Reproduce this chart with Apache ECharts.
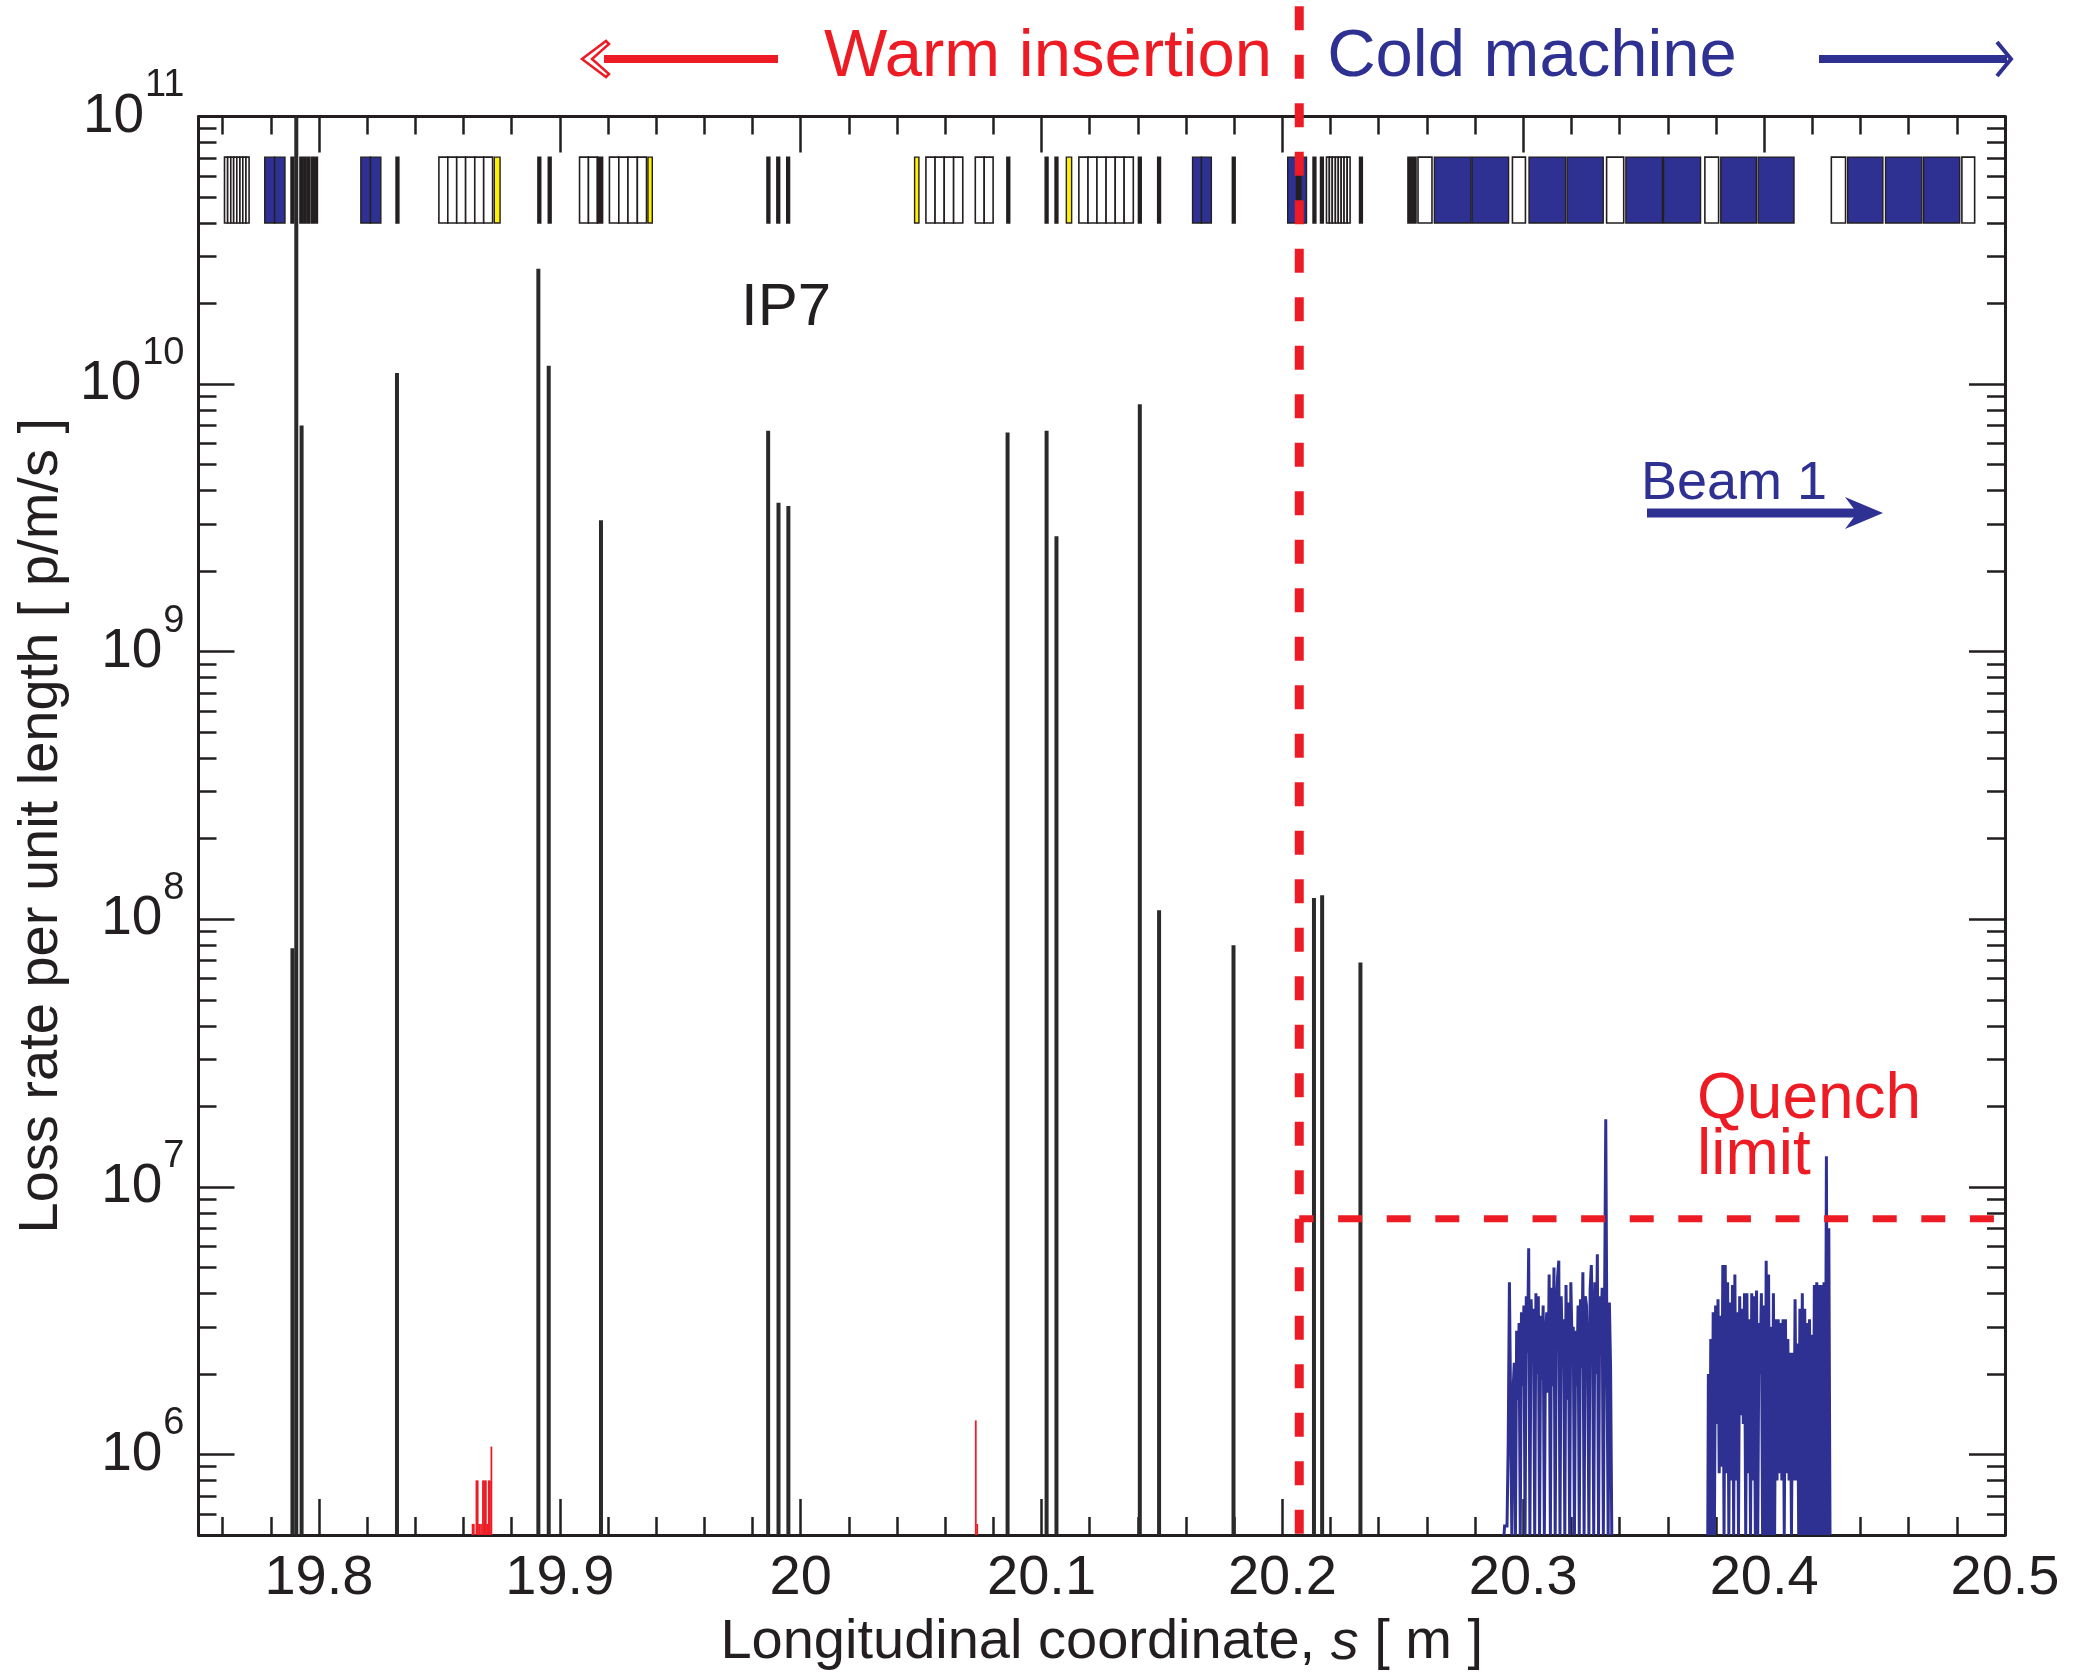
<!DOCTYPE html>
<html><head><meta charset="utf-8">
<script src="https://cdn.jsdelivr.net/npm/echarts@6/dist/echarts.min.js"></script>
<style>html,body{margin:0;padding:0;background:#fff}#c{width:2075px;height:1676px}</style>
</head><body><div id="c"></div>
<script>
// ---------------- data ----------------
const xTickLabels = [19.8, 19.9, 20.0, 20.1, 20.2, 20.3, 20.4, 20.5];
const yTickLabels = [1e6, 1e7, 1e8, 1e9, 1e10, 1e11];

// collimator (black) loss spikes
const collimatorS = [19.7890, 19.7906, 19.7928, 19.8324, 19.8911, 19.8954, 19.9171, 19.9865, 19.9908, 19.9949,
  20.0859, 20.1021, 20.1062, 20.1408, 20.1488, 20.1797, 20.2131, 20.2165, 20.2324];
const collimatorLoss = [7.8e7, 1.0e11, 7.0e9, 1.1e10, 2.7e10, 1.17e10, 3.1e9, 6.7e9, 3.6e9, 3.5e9,
  6.6e9, 6.7e9, 2.7e9, 8.4e9, 1.08e8, 8.0e7, 1.2e8, 1.23e8, 6.9e7];

// warm (red) losses
const warmS = [19.8638, 19.8643, 19.8654, 19.8659, 19.8665, 19.8673, 19.8681, 19.8686, 19.8693, 19.8699, 19.8705, 19.8710, 19.8716, 20.0727, 20.0733];
const warmLoss = [5.5e5, 5.5e5, 8.0e5, 8.0e5, 5.5e5, 5.5e5, 8.0e5, 8.0e5, 8.0e5, 5.5e5, 8.0e5, 8.0e5, 1.07e6, 1.34e6, 5.5e5];

// cold (blue) losses, binned
const coldBin = 0.0005;
const cold1Start = 20.2920;
const cold1Loss = [5e5, 5.4e5, 5.4e5, 5.4e5, 1.1e6, 4.4e6, 1.5e6, 5e5, 1.7e6, 2.2e6,
  5e5, 2.9e6, 1.6e6, 3.1e6, 5e5, 3.4e6, 1.8e6, 3.6e6, 5e5, 3.9e6,
  2.4e6, 5.9e6, 5e5, 3.8e6, 2.6e6, 3.5e6, 5e5, 4.0e6, 2.0e6, 3.9e6,
  5e5, 3.3e6, 1.9e6, 3.6e6, 5e5, 2.8e6, 3.4e6, 1.7e6, 4.7e6, 5e5,
  4.2e6, 1.8e6, 5.0e6, 5e5, 3.5e6, 4.6e6, 5.3e6, 5e5, 3.9e6, 2.3e6,
  3.2e6, 5e5, 4.3e6, 1.6e6, 3.7e6, 5e5, 4.4e6, 2.6e6, 3.0e6, 5e5,
  2.9e6, 1.8e6, 3.6e6, 5e5, 3.8e6, 2.1e6, 4.8e6, 5e5, 3.9e6, 3.6e6,
  2.4e6, 5e5, 4.1e6, 5.1e6, 3.1e6, 5e5, 4.4e6, 2.0e6, 5.6e6, 5e5,
  3.9e6, 2.8e6, 4.2e6, 5e5, 3.6e6, 1.79e7, 2.3e6, 5e5, 3.7e6, 2.1e6, 5e5];
const cold2Start = 20.3766;
const cold2Loss = [5e5, 2.0e6, 5e5, 2.7e6, 5e5, 3.4e6, 5e5, 3.6e6, 1.3e6, 3.8e6,
  8.5e5, 3.3e6, 9e5, 5.1e6, 5e5, 5.1e6, 8.5e5, 4.4e6, 5e5, 3.7e6,
  8e5, 4.3e6, 5e5, 4.7e6, 8e5, 3.4e6, 5e5, 3.9e6, 1.4e6, 3.5e6,
  1.3e6, 4.0e6, 5e5, 4.0e6, 8.5e5, 3.2e6, 5e5, 4.0e6, 8e5, 3.9e6,
  5e5, 4.1e6, 5e5, 3.1e6, 2.0e6, 4.0e6, 5e5, 3.6e6, 5e5, 5.3e6,
  5e5, 4.7e6, 5e5, 3.0e6, 5e5, 4.0e6, 5e5, 3.2e6, 8e5, 3.2e6,
  8.5e5, 3.1e6, 8e5, 3.2e6, 5e5, 3.2e6, 8.5e5, 2.7e6, 8e5, 2.4e6,
  5e5, 2.4e6, 8e5, 3.8e6, 8e5, 2.6e6, 5e5, 3.5e6, 5e5, 4.0e6,
  5e5, 3.5e6, 5e5, 3.1e6, 5e5, 3.2e6, 5e5, 2.8e6, 5e5, 4.3e6,
  5e5, 4.4e6, 5e5, 4.3e6, 5e5, 4.3e6, 5e5, 4.4e6, 5e5, 1.3e7,
  5e5, 7.0e6, 5e5];

const quenchLimit = 7.6e6;
const warmColdBoundary = 20.2070;

// machine elements (s start, s end, type: w=warm/white, b=magnet/blue, y=yellow, k=collimator/black)
const elemStart = [19.7608, 19.7621, 19.7634, 19.7646, 19.7659, 19.7672, 19.7684, 19.7697,
  19.7775, 19.7816, 19.7884, 19.7921, 19.7937, 19.7952, 19.7968, 19.8174, 19.8214, 19.8320,
  19.8498, 19.8535, 19.8572, 19.8609, 19.8647, 19.8684, 19.8728, 19.8909, 19.8952,
  19.9082, 19.9119, 19.9156, 19.9206, 19.9245, 19.9283, 19.9322, 19.9366,
  19.9860, 19.9901, 19.9942,
  20.0473, 20.0520, 20.0558, 20.0596, 20.0635, 20.0725, 20.0762, 20.0856, 20.1015, 20.1056, 20.1103,
  20.1155, 20.1193, 20.1230, 20.1268, 20.1306, 20.1343, 20.1402, 20.1482, 20.1627, 20.1664, 20.1792,
  20.2022, 20.2059, 20.2077, 20.2127, 20.2158,
  20.2183, 20.2195, 20.2207, 20.2220, 20.2232, 20.2244, 20.2256, 20.2269, 20.2320,
  20.2521, 20.2563, 20.2631, 20.2787, 20.2955, 20.3024, 20.3182, 20.3346, 20.3426, 20.3582,
  20.3754, 20.3820, 20.3975, 20.4279, 20.4347, 20.4504, 20.4662, 20.4821];
const elemEnd = [19.7621, 19.7634, 19.7646, 19.7659, 19.7672, 19.7684, 19.7697, 19.7710,
  19.7816, 19.7859, 19.7896, 19.7932, 19.7947, 19.7962, 19.7994, 19.8214, 19.8257, 19.8332,
  19.8535, 19.8572, 19.8609, 19.8647, 19.8684, 19.8721, 19.8752, 19.8921, 19.8964,
  19.9119, 19.9156, 19.9178, 19.9245, 19.9283, 19.9322, 19.9360, 19.9384,
  19.9872, 19.9913, 19.9954,
  20.0491, 20.0558, 20.0596, 20.0635, 20.0673, 20.0762, 20.0799, 20.0868, 20.1027, 20.1068, 20.1125,
  20.1193, 20.1230, 20.1268, 20.1306, 20.1343, 20.1381, 20.1414, 20.1494, 20.1664, 20.1705, 20.1804,
  20.2059, 20.2077, 20.2100, 20.2139, 20.2170,
  20.2195, 20.2207, 20.2220, 20.2232, 20.2244, 20.2256, 20.2269, 20.2281, 20.2332,
  20.2555, 20.2621, 20.2783, 20.2939, 20.3009, 20.3176, 20.3332, 20.3417, 20.3578, 20.3736,
  20.3811, 20.3968, 20.4124, 20.4338, 20.4493, 20.4655, 20.4812, 20.4874];
const elemType = ['w','w','w','w','w','w','w','w',
  'b','b','k','k','k','k','k','b','b','k',
  'w','w','w','w','w','w','y','k','k',
  'w','w','k','w','w','w','w','y',
  'k','k','k',
  'y','w','w','w','w','w','w','k','k','k','y',
  'w','w','w','w','w','w','k','k','b','b','k',
  'b','k','b','k','k',
  'w','w','w','w','w','w','w','w','k',
  'k','w','b','b','w','b','b','w','b','b',
  'w','b','b','w','b','b','b','w'];

// ---------------- chart ----------------
const FONT = '"Liberation Sans", Arial, Helvetica, sans-serif';
const INK = '#231f20';
const BLUE = '#2e3192';
const RED = '#ed1c24';
const Y_MIN = 5e5, Y_MAX = 1e11;
const ELEM_BOT = 4.0e10, ELEM_TOP = 7.05e10;

const xMinor = [];
for (let k = 988; k <= 1024; k++) if (k % 5 !== 0) xMinor.push(+(k * 0.02).toFixed(2));
const yMinor = [];
for (let e = 5; e <= 10; e++) for (let m = 2; m <= 9; m++) { const v = m * Math.pow(10, e); if (v > Y_MIN && v < Y_MAX) yMinor.push(v); }

function xAx(pos, ticks, len, showLine, extra) {
  return Object.assign({
    type: 'value', min: 19.75, max: 20.5, position: pos,
    axisLine: { show: showLine, onZero: false, lineStyle: { color: INK, width: 3 } },
    axisTick: { show: true, inside: true, length: len, customValues: ticks, lineStyle: { color: INK, width: 2.5 } },
    axisLabel: { show: false },
    splitLine: { show: false }
  }, extra || {});
}
function yAx(pos, ticks, len, showLine, extra) {
  return Object.assign({
    type: 'log', logBase: 10, min: Y_MIN, max: Y_MAX, position: pos,
    axisLine: { show: showLine, onZero: false, lineStyle: { color: INK, width: 3 } },
    axisTick: { show: true, inside: true, length: len, customValues: ticks, lineStyle: { color: INK, width: 2.5 } },
    axisLabel: { show: false },
    splitLine: { show: false }, minorTick: { show: false }
  }, extra || {});
}

const fills = { w: '#ffffff', b: BLUE, y: '#fff200', k: INK };

const option = {
  animation: false,
  backgroundColor: '#ffffff',
  grid: { left: 198.5, right: 70, top: 116.5, bottom: 137, containLabel: false },
  xAxis: [
    xAx('bottom', xTickLabels, 36, true, {
      axisLabel: { show: true, customValues: xTickLabels, margin: 16, color: INK, fontSize: 56, fontFamily: FONT,
        formatter: v => String(Math.round(v * 10) / 10) },
      name: 'Longitudinal coordinate, {i|s} [ m ]', nameLocation: 'middle', nameGap: 80,
      nameTextStyle: { color: INK, fontSize: 56, fontFamily: FONT,
        rich: { i: { fontStyle: 'italic', fontSize: 56, fontFamily: FONT, color: INK } } }
    }),
    xAx('bottom', xMinor, 18, false),
    xAx('top', xTickLabels, 36, true),
    xAx('top', xMinor, 18, false)
  ],
  yAxis: [
    yAx('left', yTickLabels, 36, true, {
      axisLabel: { show: true, customValues: yTickLabels, margin: 14,
        formatter: v => '{b|10}{s|' + Math.round(Math.log10(v)) + '}',
        rich: {
          b: { fontSize: 55, fontFamily: FONT, color: INK, padding: [22, 0, 22, 0] },
          s: { fontSize: 38, fontFamily: FONT, color: INK, verticalAlign: 'top', padding: [0, 0, 0, 1] }
        } },
      name: 'Loss rate per unit length [ p/m/s ]', nameLocation: 'middle', nameGap: 125, nameRotate: 90,
      nameTextStyle: { color: INK, fontSize: 56, fontFamily: FONT }
    }),
    yAx('left', yMinor, 18, false),
    yAx('right', yTickLabels, 36, true),
    yAx('right', yMinor, 18, false)
  ],
  series: [
    {
      type: 'custom', name: 'elements', xAxisIndex: 0, yAxisIndex: 0, z: 2,
      data: elemStart.map((s, i) => [s, elemEnd[i]]),
      renderItem: function (params, api) {
        const p0 = api.coord([api.value(0), ELEM_TOP]);
        const p1 = api.coord([api.value(1), ELEM_BOT]);
        const t = elemType[params.dataIndex];
        return { type: 'rect', shape: { x: p0[0], y: p0[1], width: p1[0] - p0[0], height: p1[1] - p0[1] },
          style: { fill: fills[t], stroke: INK, lineWidth: t === 'w' ? 1.6 : 1.4 } };
      }
    },
    {
      type: 'custom', name: 'collimator losses', xAxisIndex: 0, yAxisIndex: 0, z: 3,
      data: collimatorS.map((s, i) => [s, collimatorLoss[i]]),
      renderItem: function (params, api) {
        const a = api.coord([api.value(0), Y_MIN]);
        const b = api.coord([api.value(0), api.value(1)]);
        return { type: 'line', shape: { x1: a[0], y1: a[1], x2: b[0], y2: b[1] },
          style: { stroke: '#2a2a2a', lineWidth: 4 } };
      }
    },
    {
      type: 'custom', name: 'warm losses', xAxisIndex: 0, yAxisIndex: 0, z: 3,
      data: warmS.map((s, i) => [s, warmLoss[i]]),
      renderItem: function (params, api) {
        const a = api.coord([api.value(0), Y_MIN]);
        const b = api.coord([api.value(0), api.value(1)]);
        return { type: 'line', shape: { x1: a[0], y1: a[1], x2: b[0], y2: b[1] },
          style: { stroke: RED, lineWidth: 1.8 } };
      }
    },
    {
      type: 'line', name: 'cold losses 1', step: 'middle', showSymbol: false, symbol: 'none', z: 3,
      data: cold1Loss.map((v, i) => [cold1Start + i * coldBin, v]),
      lineStyle: { color: BLUE, width: 3, join: 'miter' }
    },
    {
      type: 'line', name: 'cold losses 2', step: 'middle', showSymbol: false, symbol: 'none', z: 3,
      data: cold2Loss.map((v, i) => [cold2Start + i * coldBin, v]),
      lineStyle: { color: BLUE, width: 3, join: 'miter' }
    },
    {
      type: 'line', name: 'quench limit', showSymbol: false, symbol: 'none', z: 5,
      data: [[20.4954, quenchLimit], [warmColdBoundary, quenchLimit]],
      lineStyle: { color: RED, width: 7, type: [24, 24.6], cap: 'butt' }
    },
    {
      type: 'line', name: 'boundary', showSymbol: false, symbol: 'none', z: 6, clip: false,
      data: [[warmColdBoundary, 2.58e11], [warmColdBoundary, Y_MIN]],
      lineStyle: { color: RED, width: 9, type: [24, 24.5], cap: 'butt' }
    }
  ],
  graphic: [
    { type: 'text', z: 20, style: { text: 'Warm insertion', x: 1048, y: 58, align: 'center', verticalAlign: 'middle', fontSize: 67, fontFamily: FONT, fill: RED } },
    { type: 'text', z: 20, style: { text: 'Cold machine', x: 1532, y: 58, align: 'center', verticalAlign: 'middle', fontSize: 67, fontFamily: FONT, fill: BLUE } },
    { type: 'rect', z: 20, shape: { x: 604, y: 55, width: 174, height: 8 }, style: { fill: RED } },
    { type: 'polygon', z: 21, shape: { points: [[582, 59], [606, 41], [609, 44], [592, 59], [609, 74], [606, 77]] }, style: { fill: '#fff', stroke: RED, lineWidth: 2.5 } },
    { type: 'rect', z: 20, shape: { x: 1819, y: 55, width: 188, height: 8 }, style: { fill: BLUE } },
    { type: 'polyline', z: 20, shape: { points: [[1997, 42], [2011, 59], [1997, 76]] }, style: { stroke: BLUE, lineWidth: 4, fill: null } },
    { type: 'text', z: 20, style: { text: 'IP7', x: 786, y: 308, align: 'center', verticalAlign: 'middle', fontSize: 60, fontFamily: FONT, fill: INK } },
    { type: 'text', z: 20, style: { text: 'Beam 1', x: 1641, y: 484, align: 'left', verticalAlign: 'middle', fontSize: 54, fontFamily: FONT, fill: BLUE } },
    { type: 'rect', z: 20, shape: { x: 1647, y: 508.5, width: 212, height: 9 }, style: { fill: BLUE } },
    { type: 'polygon', z: 20, shape: { points: [[1883, 513], [1845, 497], [1857, 513], [1845, 529]] }, style: { fill: BLUE } },
    { type: 'text', z: 20, style: { text: 'Quench', x: 1697, y: 1100, align: 'left', verticalAlign: 'middle', fontSize: 64, fontFamily: FONT, fill: RED } },
    { type: 'text', z: 20, style: { text: 'limit', x: 1697, y: 1156, align: 'left', verticalAlign: 'middle', fontSize: 64, fontFamily: FONT, fill: RED } }
  ]
};

const chart = echarts.init(document.getElementById('c'), null, { renderer: 'canvas', width: 2075, height: 1676 });
chart.setOption(option);
</script>
</body></html>
